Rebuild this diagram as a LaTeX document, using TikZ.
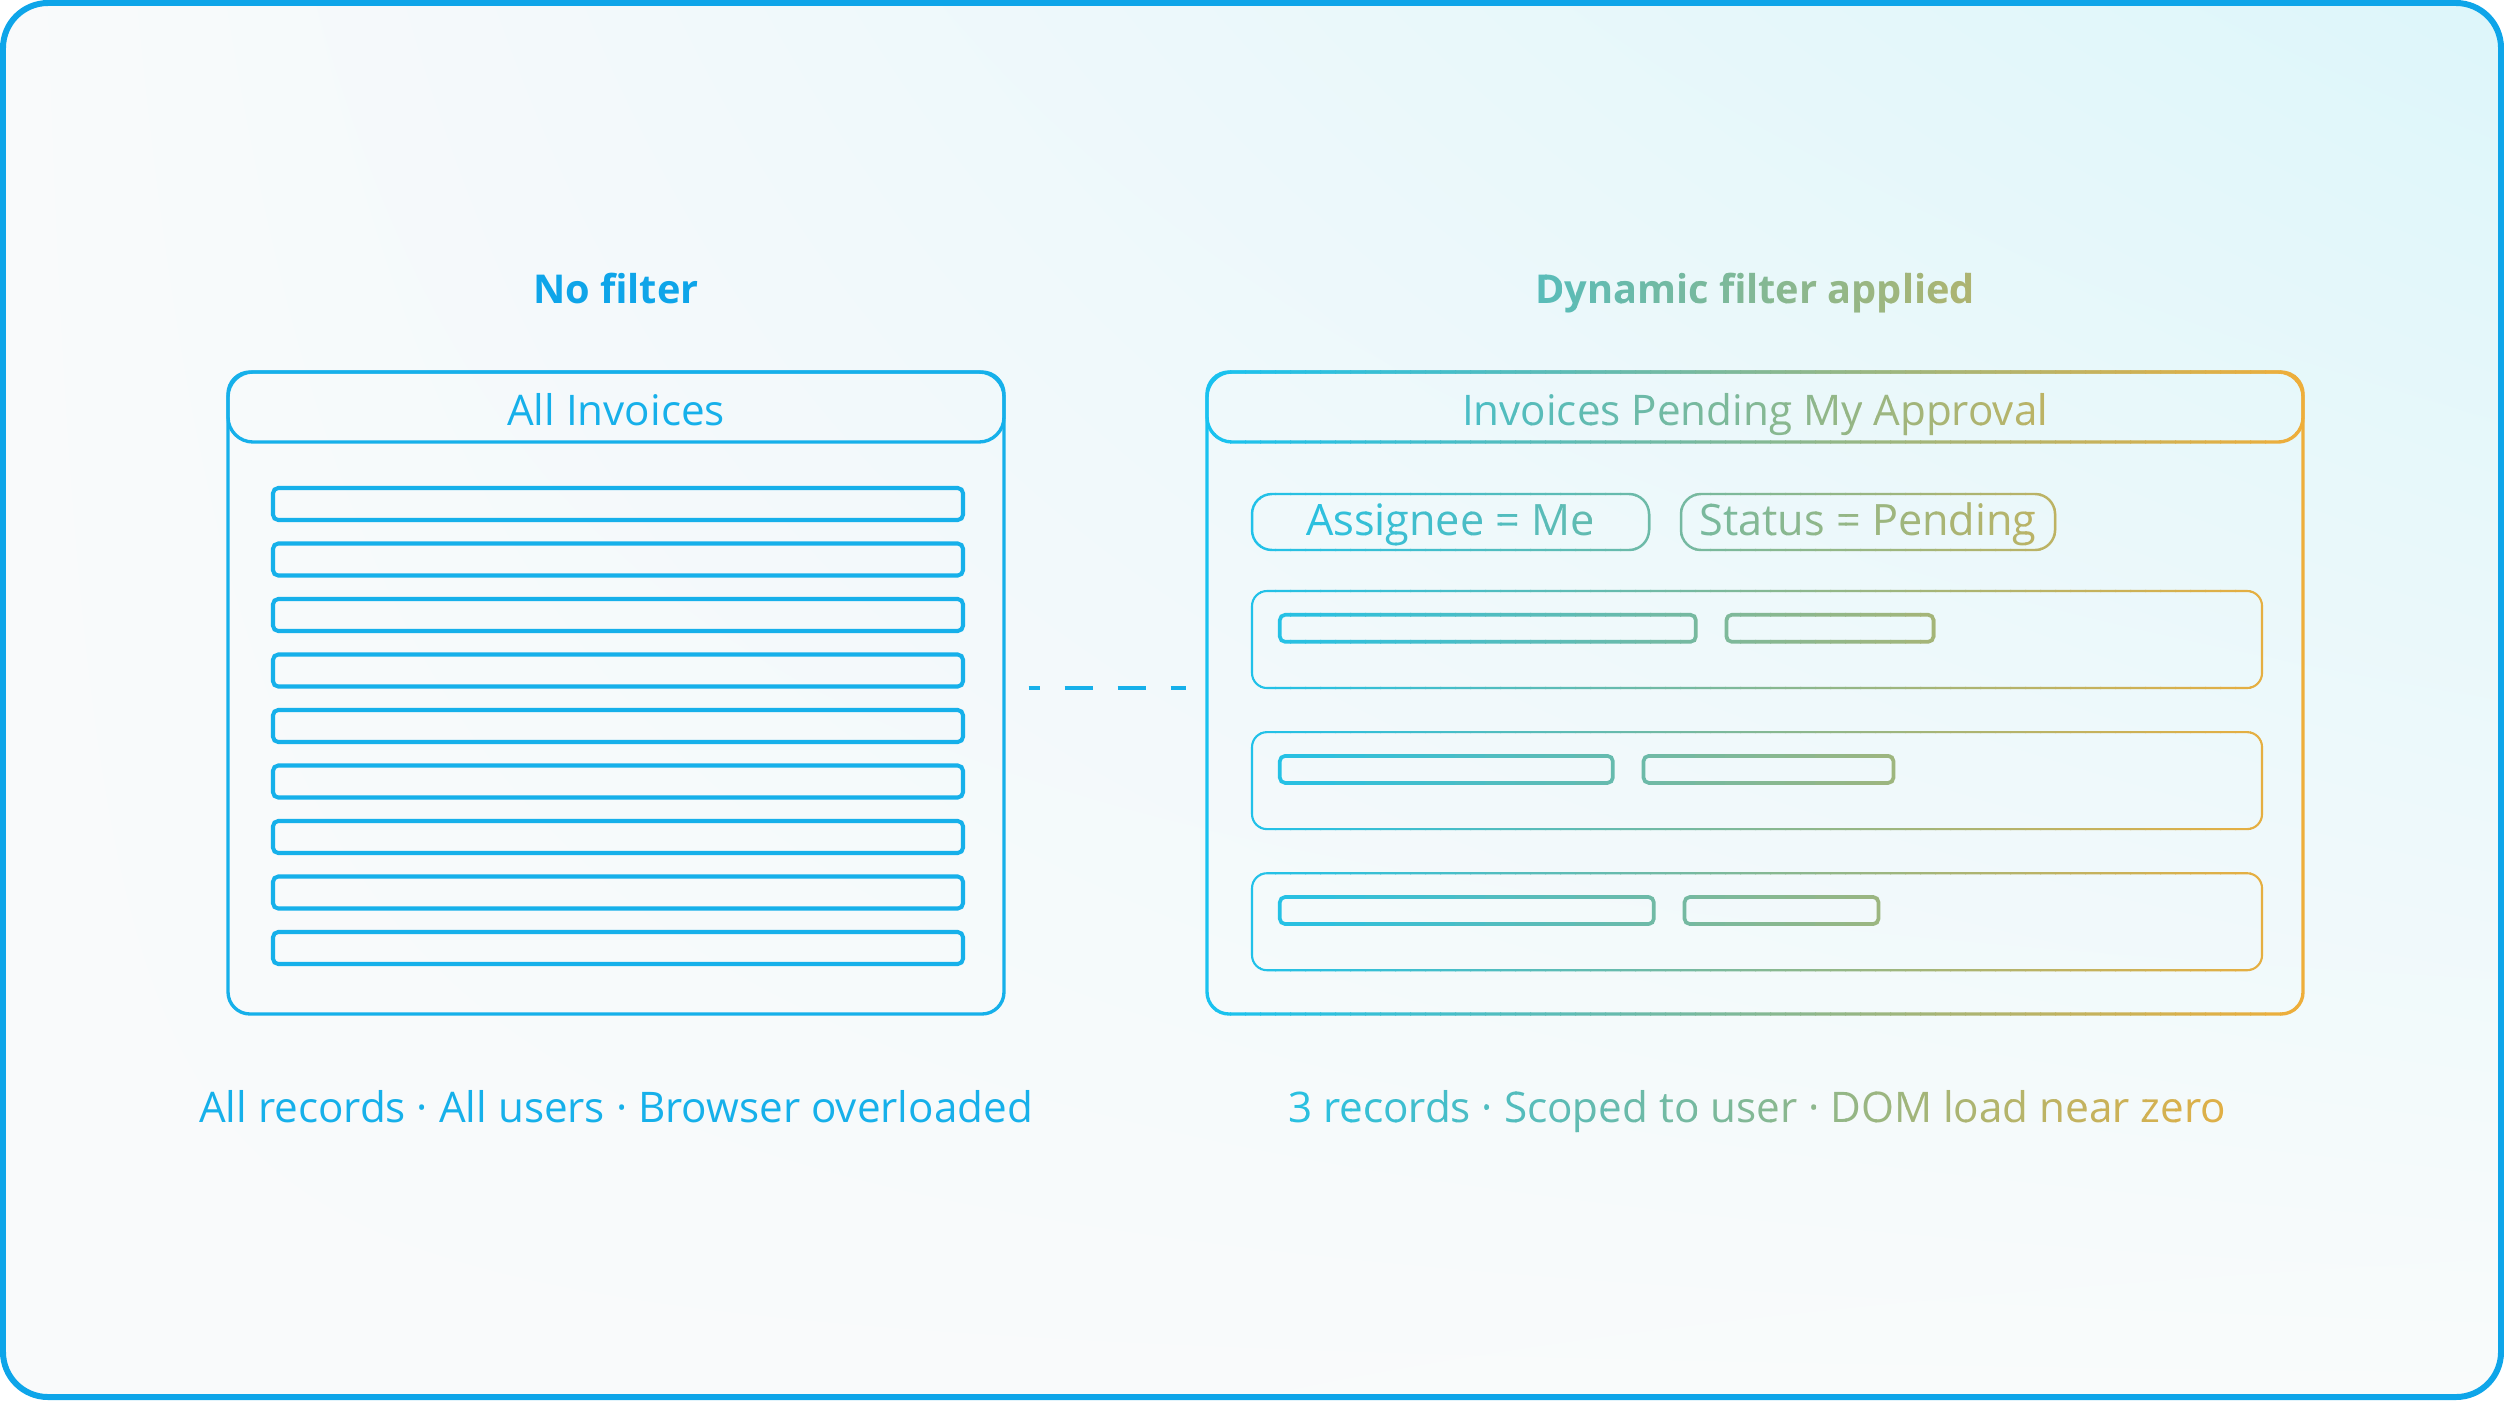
\documentclass[tikz,border=0pt]{standalone}
\usepackage{fontspec}
\setmainfont{Open Sans}
\usetikzlibrary{positioning,shadings}
\definecolor{inv@frame}{RGB}{14,165,233}
\definecolor{inv@blue}{RGB}{22,176,234}
\definecolor{inv@cyan}{RGB}{24,194,240}
\definecolor{inv@amber}{RGB}{240,174,56}
\definecolor{inv@tint}{RGB}{221,246,250}
\definecolor{inv@pale}{RGB}{249,250,251}
\definecolor{inv@soft}{RGB}{249,251,251}

% everything on the right side, drawn in the current colour
\newcommand{\pendingside}{%
  \node[title] (dyntitle) at (17.55,3.03) {Dynamic filter applied};
  \node[panel,minimum width=10.96cm] (pendpanel) at (17.55,6.93) {};
  \node[head,minimum width=10.96cm,anchor=north] (pendhead) at (pendpanel.north) {Invoices Pending My Approval};
  \node[chip,minimum width=3.97cm] (assignchip) at (14.505,5.22) {Assignee = Me};
  \node[chip,minimum width=3.74cm] (statuschip) at (18.68,5.22) {Status = Pending};
  \node[card] (card1) at (17.57,6.395) {};
  \node[card,below=0.42cm of card1] (card2) {};
  \node[card,below=0.42cm of card2] (card3) {};
  \node[bar,minimum width=4.16cm,below right=0.23cm and 0.27cm of card1.north west] (bar1a) {};
  \node[bar,minimum width=2.07cm,right=0.27cm of bar1a] (bar1b) {};
  \node[bar,minimum width=3.33cm,below right=0.23cm and 0.27cm of card2.north west] (bar2a) {};
  \node[bar,minimum width=2.50cm,right=0.27cm of bar2a] (bar2b) {};
  \node[bar,minimum width=3.74cm,below right=0.23cm and 0.27cm of card3.north west] (bar3a) {};
  \node[bar,minimum width=1.94cm,right=0.27cm of bar3a] (bar3b) {};
  \node[note] (pendnote) at (17.57,11.22) {3 records · Scoped to user · DOM load near zero};
}

\begin{document}
\begin{tikzpicture}[x=1cm,y=-1cm,
  frame/.style={draw=inv@frame,line width=1.7pt,rounded corners=0.45cm},
  title/.style={anchor=base,font=\fontsize{11.3}{14}\selectfont\bfseries},
  panel/.style={draw,line width=0.95pt,rounded corners=0.22cm,minimum height=6.42cm,inner sep=0pt},
  head/.style={draw,line width=0.95pt,rounded corners=0.25cm,minimum height=0.70cm,
    text height=0.36cm,text depth=0cm,inner sep=0pt,font=\fontsize{12}{14}\selectfont},
  rowbar/.style={draw,line width=1.15pt,rounded corners=1.5pt,minimum width=6.90cm,
    minimum height=0.32cm,inner sep=0pt},
  chip/.style={draw,line width=0.7pt,rounded corners=0.2cm,minimum height=0.56cm,inner sep=0pt,
    text height=0.31cm,text depth=0.04cm,font=\fontsize{12.3}{14}\selectfont},
  card/.style={draw,line width=0.6pt,rounded corners=0.15cm,minimum width=10.10cm,
    minimum height=0.97cm,inner sep=0pt},
  bar/.style={draw,line width=1.05pt,rounded corners=1.5pt,minimum height=0.27cm,inner sep=0pt},
  note/.style={anchor=base,font=\fontsize{12}{14}\selectfont},
  linkdash/.style={draw=inv@blue,line width=1.1pt,dash pattern=on 0.28cm off 0.25cm,
    dash phase=0.17cm,shorten <=0.23cm,shorten >=0.19cm}
]
\useasboundingbox (0,0) rectangle (25.04,14.00);
\shade[rounded corners=0.45cm,upper left=inv@pale,lower left=inv@pale,
  upper right=inv@tint,lower right=inv@soft] (0.03,0.03) rectangle (25.01,13.97);
\draw[frame] (0.03,0.03) rectangle (25.01,13.97);

% left: no filter
\begin{scope}[color=inv@blue]
  \node[title,text=inv@frame] (nofilt) at (6.16,3.03) {No filter};
  \node[panel,minimum width=7.76cm] (allpanel) at (6.16,6.93) {};
  \node[head,minimum width=7.76cm,anchor=north] (allhead) at (allpanel.north) {All Invoices};
  \foreach \i in {0,...,8}
    \node[rowbar] (row\i) at (6.18,{5.04+0.555*\i}) {};
  \node[note] (allnote) at (6.16,11.22) {All records · All users · Browser overloaded};
\end{scope}

% right: dynamic filter, gradient built from thin strips
\foreach \k in {0,...,73}{
  \pgfmathtruncatemacro{\pct}{max(0,min(100,(0.005+0.15*\k)/10.96*100))}
  \colorlet{stripcol}{inv@amber!\pct!inv@cyan}
  \begin{scope}[color=stripcol]
    \clip ({12.0+0.15*\k},2.2) rectangle ({12.0+0.15*(\k+1)+0.01},11.7);
    \pendingside
  \end{scope}
}

\draw[linkdash] ([yshift=0.05cm]allpanel.east) -- ([yshift=0.05cm]pendpanel.west);
\end{tikzpicture}
\end{document}
